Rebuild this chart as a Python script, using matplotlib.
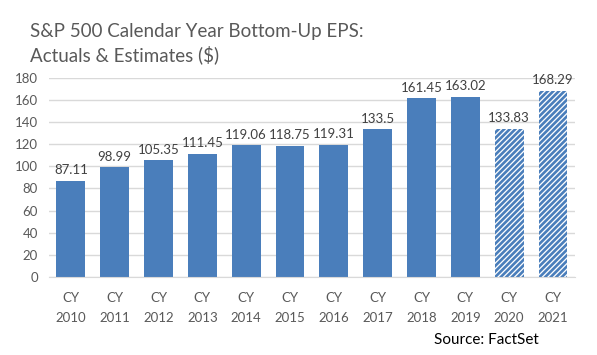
import numpy as np
import matplotlib.pyplot as plt

plt.rcParams['font.family'] = ['Lato', 'DejaVu Sans']
plt.rcParams['hatch.linewidth'] = 1.9

years = ['2010', '2011', '2012', '2013', '2014', '2015', '2016',
         '2017', '2018', '2019', '2020', '2021']
eps = [87.11, 98.99, 105.35, 111.45, 119.06, 118.75, 119.31,
       133.5, 161.45, 163.02, 133.83, 168.29]
labels = ['87.11', '98.99', '105.35', '111.45', '119.06', '118.75', '119.31',
          '133.5', '161.45', '163.02', '133.83', '168.29']
estimate = [False] * 10 + [True, True]

blue = '#4A7EBB'
grey = '#595959'

fig = plt.figure(figsize=(5.97, 3.55), dpi=100)
ax = fig.add_axes([0.082, 0.22, 0.881, 0.561])

x = np.arange(len(years))
for xi, val, est in zip(x, eps, estimate):
    if est:
        ax.bar(xi, val, 0.66, facecolor='white', edgecolor=blue,
               hatch='//////', linewidth=0, zorder=2)
    else:
        ax.bar(xi, val, 0.66, color=blue, zorder=2)

for xi, val, lab in zip(x, eps, labels):
    ax.text(xi, val + 4, lab, ha='center', va='bottom', fontsize=9.5,
            color='#404040')

ax.set_xlim(-0.5, len(years) - 0.5)
ax.set_ylim(0, 180)
ax.set_yticks(np.arange(0, 181, 20))
ax.set_xticks(x)
ax.set_xticklabels([f'CY\n{y}' for y in years], fontsize=9.5, color=grey,
                   linespacing=1.75)
ax.tick_params(axis='y', labelsize=9.5, colors=grey, length=0, pad=8)
ax.tick_params(axis='x', length=0, pad=11)
ax.yaxis.grid(True, color='#D9D9D9', linewidth=1, zorder=0)
ax.set_axisbelow(True)
for s in ['top', 'right', 'left']:
    ax.spines[s].set_visible(False)
ax.spines['bottom'].set_color('#D9D9D9')

fig.text(0.05, 0.877, 'S&P 500 Calendar Year Bottom-Up EPS:\nActuals & Estimates ($)',
         fontsize=13.5, color=grey, ha='left', va='center', linespacing=1.35)
fig.text(0.815, 0.042, 'Source: FactSet', fontsize=11, color='black',
         ha='center', va='center')

fig.savefig('out.png', dpi=100)
